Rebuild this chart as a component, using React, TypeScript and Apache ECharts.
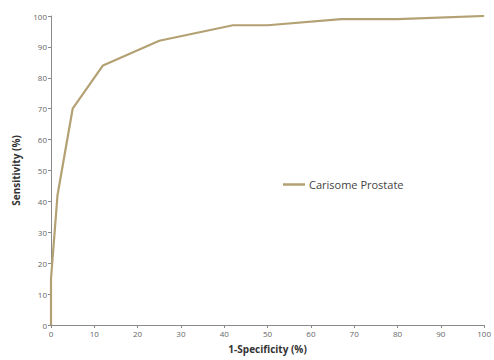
import React, { useEffect, useRef } from "react";
import * as echarts from "echarts";

const seriesName = "Carisome Prostate";
const fpr = [0, 0, 1.5, 5, 12, 25, 42, 50, 67, 80, 100];
const tpr = [0, 15, 42, 70, 84, 92, 97, 97, 99, 99, 100];
const xTitle = "1-Specificity (%)";
const yTitle = "Sensitivity (%)";

export default function App() {
  const ref = useRef<HTMLDivElement>(null);
  useEffect(() => {
    const chart = echarts.init(ref.current!, null, { renderer: "svg" });
    const axisCommon = {
      min: 0,
      max: 100,
      interval: 10,
      splitLine: { show: false },
      axisLine: { show: true, lineStyle: { color: "#8a8a8a", width: 1 } },
      axisTick: { show: true, length: 3, lineStyle: { color: "#8a8a8a" } },
      axisLabel: { color: "#666", fontSize: 8, fontFamily: "Open Sans", margin: 4 },
      nameTextStyle: { color: "#333", fontSize: 10, fontWeight: "bold", fontFamily: "Open Sans" },
    };
    chart.setOption({
      animation: false,
      grid: { left: 51, right: 6, top: 16, bottom: 35 },
      legend: {
        left: 278,
        top: 174,
        itemWidth: 22,
        itemHeight: 2.5,
        itemGap: 5,
        textStyle: { color: "#444", fontSize: 11, fontFamily: "Open Sans", padding: [0, 0, 0, -1] },
        data: [{ name: seriesName, icon: "rect", itemStyle: { color: "#b4a173" } }],
      },
      xAxis: {
        type: "value",
        ...axisCommon,
        name: xTitle,
        nameLocation: "middle",
        nameGap: 19,
        axisLabel: { ...axisCommon.axisLabel, showMaxLabel: true },
      },
      yAxis: {
        type: "value",
        ...axisCommon,
        name: yTitle,
        nameLocation: "middle",
        nameGap: 30,
      },
      series: [
        {
          name: seriesName,
          type: "line",
          data: fpr.map((x, i) => [x, tpr[i]]),
          symbol: "none",
          lineStyle: { color: "#b4a173", width: 2.2 },
          itemStyle: { color: "#b4a173" },
        },
      ],
    });
    return () => chart.dispose();
  }, []);
  return <div ref={ref} style={{ width: 494, height: 360, position: "absolute", left: 0, top: 0 }} />;
}
